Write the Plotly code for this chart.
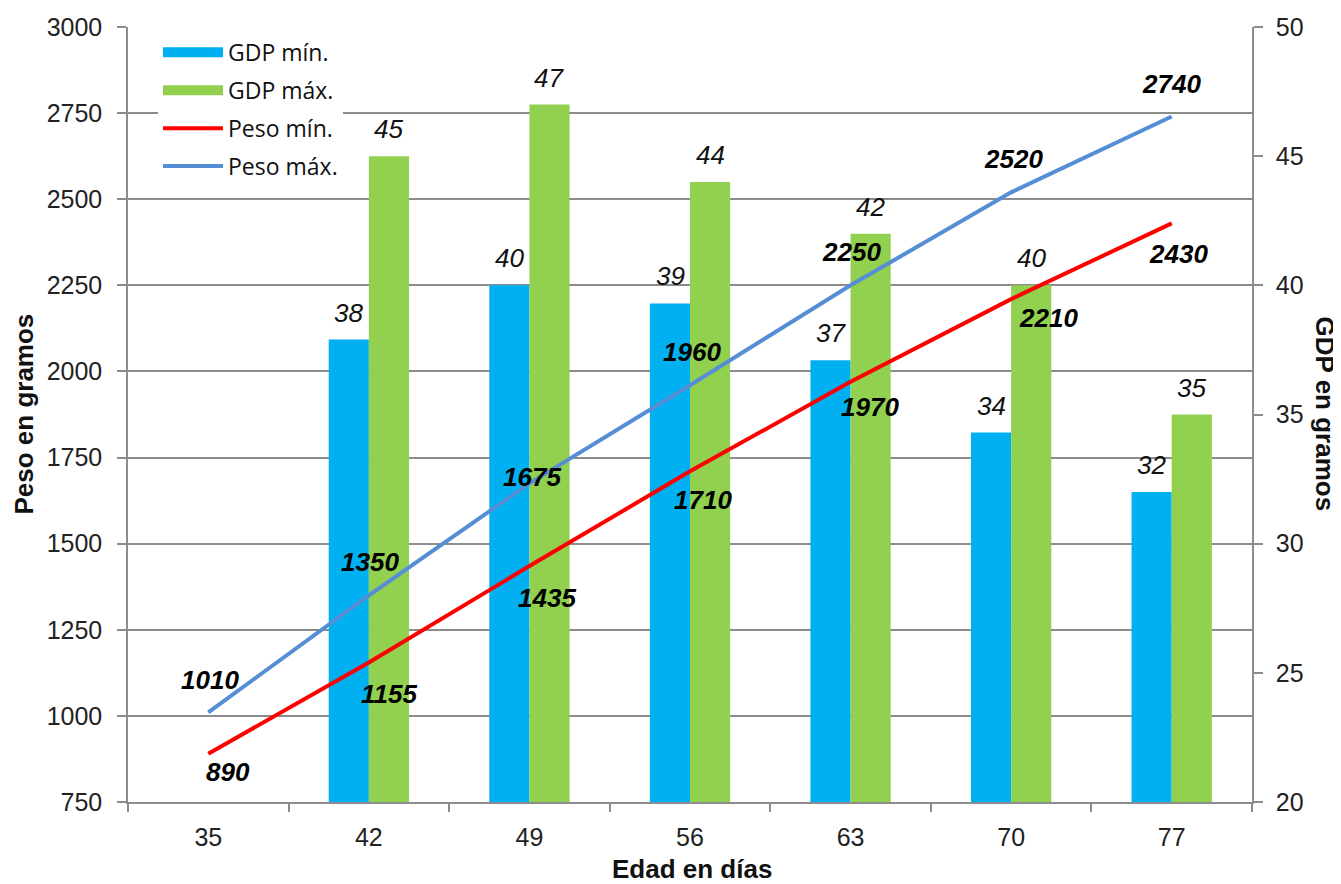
import plotly.graph_objects as go

edad = ["35", "42", "49", "56", "63", "70", "77"]
gdp_min = [None, 37.9, 40.0, 39.3, 37.1, 34.3, 32.0]
gdp_max = [None, 45.0, 47.0, 44.0, 42.0, 40.0, 35.0]
peso_min = [890, 1155, 1435, 1710, 1970, 2210, 2430]
peso_max = [1010, 1350, 1675, 1960, 2250, 2520, 2740]

# label offsets (pixels) as placed in the original chart
peso_max_shift = [(2, 32), (1, 33), (3, 6), (2, 33), (1, 33), (2, 33), (0, 33)]
peso_min_shift = [(20, -18), (20, -31), (18, -32), (13, -29), (19, -25), (37, -19), (7, -31)]

FONT = "Liberation Sans, Arial, sans-serif"
LEGFONT = "Open Sans, sans-serif"
GRID = "#8c8c8c"
BLUE_BAR = "#00B0F0"
GREEN_BAR = "#92D050"
RED = "#FF0000"
BLUE_LINE = "#558ED5"

fig = go.Figure()
fig.add_trace(go.Bar(x=edad, y=gdp_min, name="GDP mín.", marker_color=BLUE_BAR,
                     marker_line_width=0, showlegend=False, yaxis="y"))
fig.add_trace(go.Bar(x=edad, y=gdp_max, name="GDP máx.", marker_color=GREEN_BAR,
                     marker_line_width=0, showlegend=False, yaxis="y"))
fig.add_trace(go.Scatter(x=edad, y=peso_min, name="Peso mín.", mode="lines",
                         line=dict(color=RED, width=4), yaxis="y2", showlegend=False))
fig.add_trace(go.Scatter(x=edad, y=peso_max, name="Peso máx.", mode="lines",
                         line=dict(color=BLUE_LINE, width=4), yaxis="y2", showlegend=False))

# legend entries
for i, (nm, col, w) in enumerate([("GDP mín.", BLUE_BAR, 13), ("GDP máx.", GREEN_BAR, 13),
                                  ("Peso mín.", RED, 4), ("Peso máx.", BLUE_LINE, 4)]):
    fig.add_trace(go.Scatter(x=[edad[0]], y=[None], name=nm, mode="lines",
                             line=dict(color=col, width=w), yaxis="y2",
                             legendrank=i + 1, legendgroup=f"g{i}", showlegend=True))

ann = []
lab_font = dict(family=FONT, size=26, color="#111")
for i, v in enumerate(gdp_min):
    if v is not None:
        ann.append(dict(x=i, y=v, xref="x", yref="y", text=f"<i>{v:.0f}</i>", showarrow=False,
                        xshift=-20, yshift=27, yanchor="middle", font=lab_font))
for i, v in enumerate(gdp_max):
    if v is not None:
        ann.append(dict(x=i, y=v, xref="x", yref="y", text=f"<i>{v:.0f}</i>", showarrow=False,
                        xshift=20, yshift=27, yanchor="middle", font=lab_font))
for i, (v, (dx, dy)) in enumerate(zip(peso_max, peso_max_shift)):
    ann.append(dict(x=i, y=v, xref="x", yref="y2", text=f"<b><i>{v}</i></b>", showarrow=False,
                    xshift=dx, yshift=dy, yanchor="middle", font=dict(family=FONT, size=26, color="#000")))
for i, (v, (dx, dy)) in enumerate(zip(peso_min, peso_min_shift)):
    ann.append(dict(x=i, y=v, xref="x", yref="y2", text=f"<b><i>{v}</i></b>", showarrow=False,
                    xshift=dx, yshift=dy, yanchor="middle", font=dict(family=FONT, size=26, color="#000")))

title_font = dict(family=FONT, size=26, color="#111")
ann.append(dict(text="<b>Peso en gramos</b>", xref="paper", yref="paper", x=-0.0934, y=0.5,
                xanchor="center", yanchor="middle", textangle=-90, showarrow=False, font=title_font))
ann.append(dict(text="<b>GDP en gramos</b>", xref="paper", yref="paper", x=1.0658, y=0.5,
                xanchor="center", yanchor="middle", textangle=90, showarrow=False, font=title_font))
ann.append(dict(text="<b>Edad en días</b>", xref="paper", yref="paper", x=0.502, y=-0.1045,
                xanchor="center", yanchor="bottom", yshift=-3, showarrow=False, font=title_font))

tickfont = dict(family=FONT, size=25, color="#222")

fig.update_layout(
    width=1333, height=876,
    margin=dict(l=120, r=89, t=19, b=82, autoexpand=False),
    paper_bgcolor="white", plot_bgcolor="white",
    barmode="group", bargap=0.5, bargroupgap=0,
    font=dict(family=FONT, size=19, color="#222"),
    showlegend=True,
    legend=dict(x=0.0267, y=0.995, xanchor="left", yanchor="top",
                bgcolor="white", borderwidth=0,
                font=dict(family=LEGFONT, size=23, color="#111"),
                itemwidth=60, tracegroupgap=5),
    xaxis=dict(type="category", categoryorder="array", categoryarray=edad,
               range=[-0.5, len(edad) - 0.5], autorange=False, automargin=False,
               showgrid=False, showline=True, linecolor=GRID, linewidth=1.5,
               ticks="outside", tickson="boundaries", ticklen=8, tickcolor=GRID, tickwidth=1.5,
               ticklabelstandoff=12, tickangle=0, tickfont=tickfont),
    yaxis=dict(side="right", range=[20, 50], dtick=5, showgrid=False, zeroline=False,
               automargin=False,
               showline=True, linecolor=GRID, linewidth=1.5, ticks="outside", ticklen=9,
               tickcolor=GRID, tickwidth=1.5, ticklabelstandoff=8, tickfont=tickfont),
    yaxis2=dict(overlaying="y", side="left", range=[750, 3000], dtick=250, showgrid=True,
                automargin=False,
                gridcolor=GRID, gridwidth=1.5, zeroline=False,
                showline=True, linecolor=GRID, linewidth=1.5, ticks="outside", ticklen=9,
                tickcolor=GRID, tickwidth=1.5, ticklabelstandoff=10, tickfont=tickfont),
    annotations=ann,
)

fig.write_html("out.html")
